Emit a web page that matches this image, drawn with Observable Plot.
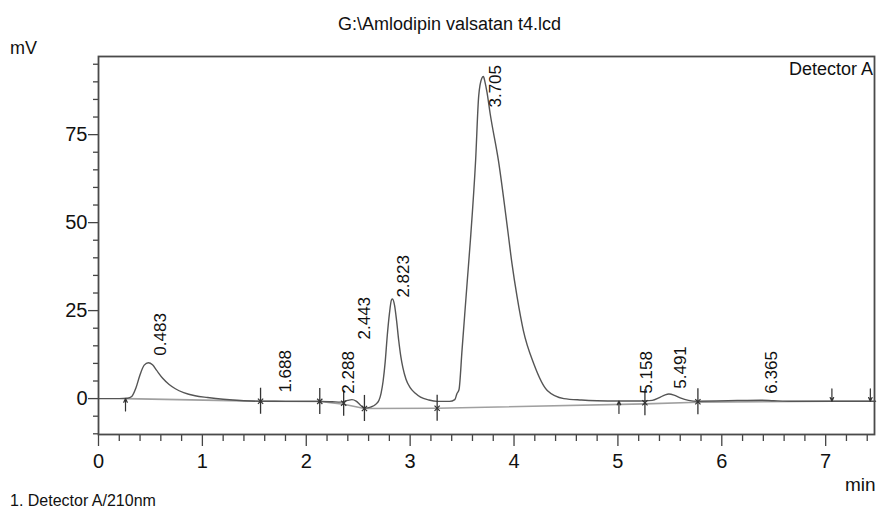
<!DOCTYPE html>
<html><head><meta charset="utf-8">
<script src="https://cdn.jsdelivr.net/npm/d3@7"></script>
<script src="https://cdn.jsdelivr.net/npm/@observablehq/plot@0.6"></script>
<style>
body{margin:0;background:#fff;}
#wrap{position:relative;width:877px;height:511px;overflow:hidden;font-family:"Liberation Sans",Arial,sans-serif;color:#111;}
#wrap svg{position:absolute;left:0;top:0;font-family:"Liberation Sans",Arial,sans-serif;}
.t{position:absolute;white-space:nowrap;line-height:18px;}
</style></head><body><div id="wrap"></div>
<script>
// Chromatogram trace (min, mV)
const time = [0,0.1,0.2,0.28,0.32,0.36,0.40,0.44,0.48,0.52,0.56,0.62,0.68,0.74,0.82,0.93,1.05,1.20,1.40,1.56,1.70,1.90,2.13,2.25,2.33,2.40,2.44,2.48,2.52,2.56,2.62,2.67,2.70,2.72,2.74,2.76,2.78,2.80,2.82,2.83,2.85,2.87,2.89,2.91,2.93,2.96,3.00,3.05,3.10,3.18,3.26,3.38,3.43,3.45,3.47,3.50,3.55,3.58,3.63,3.66,3.69,3.705,3.72,3.74,3.77,3.85,3.94,3.98,4.03,4.09,4.19,4.32,4.48,4.65,4.80,5.00,5.16,5.26,5.33,5.40,5.45,5.49,5.54,5.60,5.68,5.77,5.95,6.15,6.37,6.50,6.70,7.06,7.48];
const signal = [0,0,0,0.1,0.6,3.0,6.8,9.5,10.2,9.6,8.0,5.7,4.0,2.8,1.7,0.8,0.3,-0.2,-0.6,-0.75,-0.75,-0.8,-0.8,-0.9,-1.0,-0.5,-0.3,-0.7,-1.8,-2.7,-2.4,-1.6,-0.5,1.5,5.0,10.5,18,24,28,28.3,26.5,22,16.5,12,8.8,5.5,3.1,1.5,0.4,-0.4,-0.8,-0.8,-0.3,1.4,2.5,14,33.5,45,67.6,86,91,91.5,90,87,81,67.6,47.7,38.4,28.8,19.3,9.9,2.3,0,-0.4,-0.6,-0.7,-0.7,-0.65,-0.5,0.3,1.0,1.3,1.0,0.2,-0.5,-0.75,-0.7,-0.55,-0.45,-0.6,-0.75,-0.75,-0.75];

// Integration baseline (polyline)
const baseT = [0.26,1.56,2.13,2.36,2.56,3.26,5.26,5.77,7.06,7.43];
const baseV = [0,-0.75,-0.8,-1.6,-2.8,-2.75,-1.5,-1.05,-0.75,-0.75];

// Peak start/end markers
const markerT = [0.26,1.56,2.13,2.36,2.56,3.26,5.01,5.26,5.77,7.06,7.43];
const markerV = [0,-0.75,-0.8,-1.3,-2.8,-2.75,-0.7,-1.2,-0.9,-0.75,-0.75];
const markerKind = ["up","cross","cross","cross","cross","cross","up","cross","cross","down","down"];

// Peak retention-time labels and where their text starts (mV)
const peakLabels = ["0.483","1.688","2.288","2.443","2.823","3.705","5.158","5.491","6.365"];
const labelV = [12.2,1.7,1.4,16.8,28.7,82.7,1.4,2.8,1.4];

// Axis ticks
const xMajor = [0,1,2,3,4,5,6,7];
const xMinor = [0.2,0.4,0.6,0.8,1.2,1.4,1.6,1.8,2.2,2.4,2.6,2.8,3.2,3.4,3.6,3.8,4.2,4.4,4.6,4.8,5.2,5.4,5.6,5.8,6.2,6.4,6.6,6.8,7.2,7.4];
const yMajor = [0,25,50,75];
const yMinor = [-10,-5,5,10,15,20,30,35,40,45,55,60,65,70,80,85,90,95];

const trace = time.map((t,i)=>({t, v: signal[i]}));
const base = baseT.map((t,i)=>({t, v: baseV[i]}));
const markers = markerT.map((t,i)=>({t, v: markerV[i], kind: markerKind[i]}));
const labels = peakLabels.map((s,i)=>({t: +s, v: labelV[i], s}));
const R = 3.7, A = 3.5;

const chart = Plot.plot({
  width: 877, height: 511,
  marginLeft: 98, marginRight: 3, marginTop: 56, marginBottom: 77,
  x: {domain: [0, 7.47], label: null},
  y: {domain: [-10.2, 97.2], label: null},
  style: {fontSize: "19px", color: "#111", background: "transparent"},
  marks: [
    Plot.axisX(xMinor, {tickSize: 7, tickFormat: () => "", stroke: "#444", strokeWidth: 1.3, label: null}),
    Plot.axisX(xMajor, {tickSize: 12, tickPadding: 7, fontSize: 20, stroke: "#444", strokeWidth: 1.3, fill: "#111", label: null}),
    Plot.axisY(yMinor, {tickSize: 5, tickFormat: () => "", stroke: "#444", strokeWidth: 1.3, label: null}),
    Plot.axisY(yMajor, {tickSize: 10, tickPadding: 1, fontSize: 20, stroke: "#444", strokeWidth: 1.3, fill: "#111", label: null}),
    Plot.line(base, {x: "t", y: "v", stroke: "#a0a0a0", strokeWidth: 1.6}),
    Plot.line(trace, {x: "t", y: "v", curve: "monotone-x", stroke: "#555", strokeWidth: 1.4}),
    Plot.ruleX(markers.filter(d=>d.kind==="cross"), {x: "t", y1: d=>d.v-R, y2: d=>d.v+R, stroke: "#333", strokeWidth: 1.3}),
    Plot.dot(markers.filter(d=>d.kind==="cross"), {x: "t", y: "v", symbol: "times", r: 2.5, stroke: "#333", strokeWidth: 1.2}),
    Plot.arrow(markers.filter(d=>d.kind==="up"), {x1: "t", y1: d=>d.v-A, x2: "t", y2: "v", stroke: "#333", strokeWidth: 1.2, headLength: 6, headAngle: 50}),
    Plot.arrow(markers.filter(d=>d.kind==="down"), {x1: "t", y1: d=>d.v+A, x2: "t", y2: "v", stroke: "#333", strokeWidth: 1.2, headLength: 6, headAngle: 50}),
    Plot.text(labels, {x: "t", y: "v", text: "s", rotate: -90, textAnchor: "start", dx: 12, fontSize: 17, fill: "#111"}),
    Plot.frame({stroke: "#4a4a4a", strokeWidth: 1.8})
  ]
});
const wrap = document.getElementById("wrap");
wrap.appendChild(chart);
function addText(txt, css){ const d=document.createElement("div"); d.className="t"; d.textContent=txt; d.style.cssText=css; wrap.appendChild(d); }
addText("G:\\Amlodipin valsatan t4.lcd", "left:11px;width:877px;text-align:center;top:15px;font-size:18px;");
addText("mV", "left:10px;top:39px;font-size:18px;");
addText("Detector A", "right:4px;top:60px;font-size:18px;");
addText("min", "left:845px;top:476px;font-size:19px;");
addText("1. Detector A/210nm", "left:10px;top:492px;font-size:16px;");
</script></body></html>
